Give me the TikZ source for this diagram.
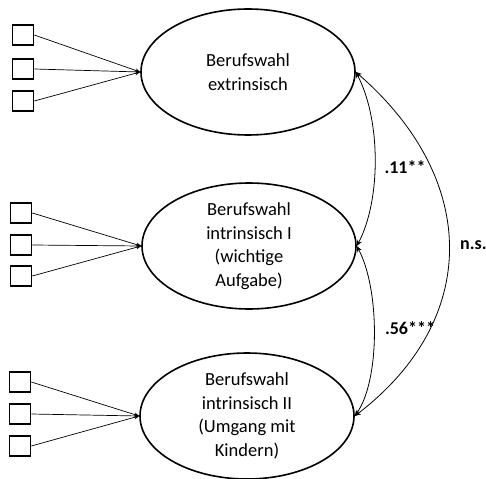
\documentclass[tikz,border=0pt]{standalone}
\usepackage{fontspec}
\setmainfont{Carlito}
\usetikzlibrary{shapes.geometric,arrows.meta}
\begin{document}
\begin{tikzpicture}[x=1pt,y=-1pt,
  latent/.style={draw,ellipse,line width=1.6pt,minimum width=214pt,minimum height=126pt,inner sep=0pt,align=center,font=\fontsize{18.5}{23.5}\selectfont},
  ind/.style={draw,rectangle,line width=1.6pt,minimum width=21pt,minimum height=20pt,inner sep=0pt},
  load/.style={line width=0.7pt,-{Stealth[length=5pt,width=4pt]}},
  cov/.style={line width=0.8pt,{Stealth[length=6pt,width=5pt]}-{Stealth[length=6pt,width=5pt]}},
  lab/.style={font=\bfseries\fontsize{18}{20}\selectfont,inner sep=0pt}]
\useasboundingbox (0,0) rectangle (486,478);
\node[latent] (e1) at (248,72) {Berufswahl\\extrinsisch};
\node[latent] (e2) at (249,246) {Berufswahl\\intrinsisch I\\(wichtige\\Aufgabe)};
\node[latent] (e3) at (247,416) {Berufswahl\\intrinsisch II\\(Umgang mit\\Kindern)};
\node[ind] (a1) at (23,35) {};
\node[ind] (a2) at (23,69) {};
\node[ind] (a3) at (23,101) {};
\node[ind] (b1) at (21,213) {};
\node[ind] (b2) at (21,245) {};
\node[ind] (b3) at (21,276) {};
\node[ind] (c1) at (20,382) {};
\node[ind] (c2) at (20,414) {};
\node[ind] (c3) at (20,446) {};
\foreach \s in {a1,a2,a3} \draw[load] (\s.east) -- (e1.west);
\foreach \s in {b1,b2,b3} \draw[load] (\s.east) -- (e2.west);
\foreach \s in {c1,c2,c3} \draw[load] (\s.east) -- (e3.west);
\draw[cov] (e1.east) .. controls (381,120) and (381,200) .. (e2.east);
\draw[cov] (e2.east) .. controls (380,290) and (380,380) .. (e3.east);
\draw[cov] (e1.east) .. controls (480,180) and (480,320) .. (e3.east);
\node[lab] (l1) at (405,167) {.11**};
\node[lab] (l2) at (410,328) {.56***};
\node[lab,anchor=west] (l3) at (460,245) {n.s.};
\end{tikzpicture}
\end{document}
